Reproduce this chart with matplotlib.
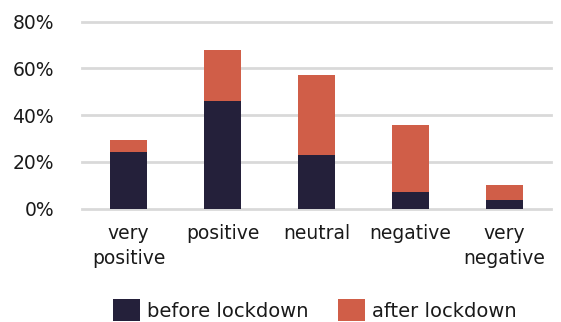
import matplotlib
matplotlib.use("Agg")
import matplotlib.pyplot as plt
from matplotlib.patches import Patch
from matplotlib.ticker import FuncFormatter

plt.rcParams["font.family"] = ["DejaVu Sans"]

categories = ["very\npositive", "positive", "neutral", "negative", "very\nnegative"]
before_lockdown = [24.3, 46.1, 23.0, 7.1, 3.7]
after_lockdown = [5.1, 21.8, 34.2, 28.7, 6.4]
series_names = ["before lockdown", "after lockdown"]
y_ticks = [0, 20, 40, 60, 80]

dark = "#24203a"
coral = "#d05e48"
grid_gray = "#d9d9d9"
text_color = "#1a1a1a"

fig = plt.figure(figsize=(5.61, 3.22), dpi=100)
ax = fig.add_axes([0.1456, 0.352, 0.8374, 0.581])

x = range(len(categories))
ax.bar(x, before_lockdown, width=0.39, color=dark, zorder=3)
ax.bar(x, after_lockdown, width=0.39, bottom=before_lockdown, color=coral, zorder=3)

ax.set_xlim(-0.5, len(categories) - 0.5)
ax.set_ylim(0, 80)
ax.set_yticks(y_ticks)
ax.yaxis.set_major_formatter(FuncFormatter(lambda v, _: f"{v:.0f}%"))
ax.set_xticks(list(x))
ax.set_xticklabels(categories, linespacing=1.4)

ax.grid(axis="y", color=grid_gray, linewidth=2, zorder=0)
for line in ax.get_ygridlines():
    line.set_clip_on(False)
ax.set_axisbelow(True)
for side in ["top", "right", "left", "bottom"]:
    ax.spines[side].set_visible(False)
ax.tick_params(axis="both", length=0, labelsize=13.5, colors=text_color)
ax.tick_params(axis="y", pad=20)
ax.tick_params(axis="x", pad=11)

handles = [Patch(facecolor=dark), Patch(facecolor=coral)]
fig.legend(handles, series_names, loc="center", bbox_to_anchor=(0.561, 0.037),
           ncol=2, frameon=False, fontsize=14, handlelength=1.4, handleheight=1.3,
           handletextpad=0.35, columnspacing=1.5, labelcolor=text_color,
           borderpad=0, borderaxespad=0)

fig.savefig("out.png", dpi=100)
